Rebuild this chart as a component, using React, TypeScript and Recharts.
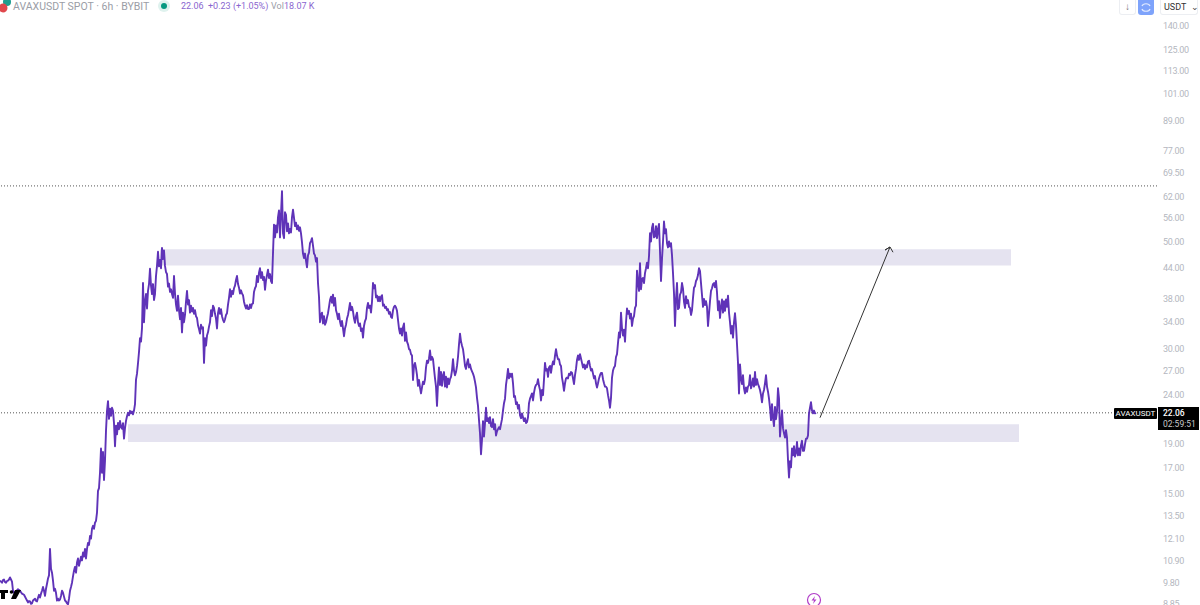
import React from "react";
import { LineChart, Line, XAxis, YAxis, ReferenceArea, ReferenceLine } from "recharts";

type Pair = [number, number];

const baseLeg: Pair[] = [
  [0,9.9],[1,9.85],[2,9.8],[3,9.92],[4,9.95],[5,9.83],[6,9.8],[7,9.88],[8,9.9],[9,9.95],[10,10.05],[11,9.95],[12,9.85],[13,9.43],[14,9.34],
  [16,9.4],[18,9.5],[20,9.43],[22,9.3],[24,9.25],[26,9.08],[27,9.0],[28,8.92],[29,8.98],[30,8.96],[31,8.86],[32,8.88],[33,9.0],[35,9.08],[36,8.98],[37,8.96],
  [38,9.12],[39,9.25],[40,9.13],[41,9.3],[42,9.43],[43,9.6],[44,9.43],[45,9.2],[46,9.52],[47,9.75],[48,10.0],[49,10.15],[50,11.52],[51,10.47],[52,10.28],
  [53,9.9],[54,9.43],[55,9.52],[56,9.34],[57,9.0],[58,9.08],[59,9.0],[60,9.04],[61,9.2],[62,9.43],[63,9.34],[64,9.17],[65,9.0],[66,8.96],[67,8.88],[68,8.84],
  [69,9.08],[70,9.43],[71,9.6],[72,9.8],[73,10.1],[74,10.38],[75,10.57],[76,10.28],[77,10.79],[78,11.0],[79,10.62],[80,10.85],[81,11.1],[82,10.9],[83,11.32],
  [84,11.1],[85,11.52],[86,11.0],[87,11.52],[88,11.85],[89,11.74],[90,12.25],[91,12.1],[92,12.68],[93,12.86],[94,12.68],[95,13.05],[96,13.17],[97,13.69],[98,15.2],
  [99,15.4],[100,16.57],[101,18.6],[102,16.57],[103,18.3],[104,16.0],[105,17.55],[106,20.25],[107,22.27],[108,23.33],[109,21.43],[110,22.5],[111,21.75],[112,22.6],
  [113,22.27],[114,21.0],[115,18.8],[116,20.75],[117,19.9],[118,21.02],[119,20.4],[120,21.23],[121,20.6],[122,20.45],[123,21.0],[124,19.5],[125,20.5],[126,21.23],
  [127,21.7],[128,22.06],[129,21.8],[130,22.27],[131,22.0],[132,22.2],[133,21.9],[134,22.3],[135,23.0],
];

const firstPeakLeg: Pair[] = [
  [136,25.85],[137,26.6],[138,27.95],[139,29.5],[140,31.5],[141,31.0],[142,33.05],[143,41.0],[144,34.0],[145,37.5],[146,38.9],[147,36.3],[148,39.5],[149,40.8],
  [150,43.9],[151,40.5],[152,38.9],[153,40.8],[154,37.8],[155,38.9],[156,42.4],[157,44.5],[158,47.6],[159,44.4],[160,45.8],[161,44.0],[162,48.5],[163,46.0],
  [164,47.9],[165,44.5],[166,43.2],[167,42.8],[168,40.3],[169,40.9],[170,39.3],[171,39.8],[172,38.9],[173,38.2],[174,42.4],[175,39.0],[176,37.0],[177,35.9],
  [178,38.6],[179,36.0],[180,34.5],[181,36.4],[182,32.4],[183,35.6],[184,34.0],[185,35.2],[186,37.5],[187,39.5],[188,37.0],[189,37.8],[190,35.6],[191,36.8],
  [192,35.8],[193,36.4],[194,35.4],[195,36.0],[196,35.0],[197,34.7],[198,33.5],[199,32.9],[200,32.2],[201,33.6],[202,33.0],[203,33.2],[204,28.0],[205,31.5],
  [206,30.4],[207,31.9],[208,32.4],[209,33.3],[210,34.0],[211,36.0],[212,35.0],[213,36.8],[214,36.4],[215,35.4],[216,34.6],[217,33.0],[218,35.5],[219,36.4],
  [220,35.4],[221,36.2],[222,35.0],[223,34.4],[224,34.0],[225,34.5],[226,35.2],[227,35.5],[228,37.0],[229,38.2],[230,39.8],[231,38.4],[232,39.5],[233,38.9],
  [234,40.0],[235,40.5],[236,41.6],[237,42.4],[238,40.8],[239,40.1],[240,39.0],[241,39.6],[242,39.0],[243,38.7],[244,37.5],[245,36.8],[246,36.3],[247,36.9],
  [248,36.2],[249,36.2],[250,37.0],[251,36.4],[252,37.1],[253,37.2],[254,39.3],[255,40.0],[256,40.4],[257,42.4],[258,41.2],[259,43.1],[260,44.0],[261,42.0],
  [262,43.2],[263,41.6],[264,42.2],[265,39.7],[266,41.5],[267,42.6],[268,43.7],[269,42.0],[270,42.8],[271,41.4],[272,41.0],[273,47.3],[274,54.2],[275,51.0],
  [276,54.0],[277,52.2],[278,56.2],[279,58.0],[280,51.0],[281,57.0],[282,63.6],[283,52.0],[284,50.8],[285,57.5],[286,56.8],[287,52.5],[288,54.5],[289,52.0],
  [290,53.1],[291,52.2],[292,56.2],[293,58.2],[294,56.0],[295,53.8],[296,54.7],[297,53.0],[298,54.0],[299,52.6],[300,53.5],
];

const slideLeg: Pair[] = [
  [301,52.0],[302,49.8],[303,47.2],[304,46.2],[305,47.2],[306,45.6],[307,44.2],[308,46.8],[309,47.4],[310,49.6],[311,50.1],[312,50.8],[313,49.0],[314,47.2],
  [315,46.8],[316,45.4],[317,46.2],[318,41.0],[319,38.4],[320,34.0],[321,35.2],[322,35.6],[323,33.8],[324,35.0],[325,33.6],[326,34.0],[327,34.8],[328,35.5],
  [329,36.6],[330,37.8],[331,38.4],[332,37.3],[333,38.8],[334,36.8],[335,38.2],[336,36.0],[337,35.4],[338,34.5],[339,35.4],[340,34.1],[341,33.4],[342,34.2],
  [343,33.0],[344,31.8],[345,33.0],[346,33.6],[347,34.6],[348,35.2],[349,36.2],[350,37.3],[351,36.0],[352,36.6],[353,35.8],[354,34.6],[355,33.9],[356,35.0],
  [357,35.6],[358,34.0],[359,33.4],[360,33.8],[361,32.6],[362,33.0],[363,31.6],[364,33.4],[365,34.2],[366,34.6],[367,36.4],[368,37.3],[369,36.4],[370,36.8],
  [371,35.6],[372,37.5],[373,41.0],[374,40.0],[375,40.6],[376,38.3],[377,38.6],[378,37.6],[379,38.4],[380,37.6],[381,38.4],[382,38.7],[383,36.8],[384,37.0],
  [385,36.4],[386,36.6],[387,36.0],[388,36.2],[389,35.4],[390,35.7],[391,34.9],[392,34.7],[393,36.0],[394,36.6],[395,36.8],[396,36.5],[397,35.9],[398,34.4],
  [399,33.0],[400,32.2],[401,33.0],[402,31.9],[403,33.2],[404,33.8],[405,31.1],[406,32.4],[407,31.0],[408,30.6],[409,29.9],[410,29.8],[411,29.2],[412,29.0],
  [413,25.8],[414,27.6],[415,28.0],[416,27.3],[417,26.4],[418,25.1],[419,25.8],[420,24.9],[421,24.2],[422,24.9],[423,25.6],[424,25.3],[425,25.9],[426,27.4],
  [427,28.3],[428,28.0],[429,28.6],[430,29.7],[431,28.4],[432,28.8],[433,28.5],[434,27.2],[435,26.0],[436,25.0],[437,22.8],[438,25.4],[439,27.4],[440,25.2],
  [441,26.8],[442,25.1],[443,26.4],[444,26.8],[445,25.0],[446,26.2],[447,24.9],[448,26.0],[449,25.3],[450,25.9],[451,26.2],[452,27.0],[453,28.5],[454,27.0],
  [455,26.4],[456,26.8],[457,27.6],[458,28.8],[459,30.6],[460,32.2],[461,31.0],[462,30.4],[463,29.9],[464,28.8],[465,27.6],[466,27.2],[467,28.0],[468,28.5],
  [469,27.4],[470,27.8],[471,27.2],[472,26.9],[473,26.6],[474,26.2],[475,25.6],[476,24.9],[477,23.7],[478,22.8],[479,21.3],[480,20.0],[481,18.1],[482,19.4],
  [483,21.2],[484,19.7],[485,21.0],[486,22.6],[487,21.2],[488,21.5],[489,21.0],[490,21.6],[491,20.7],[492,20.6],[493,21.4],[494,20.4],[495,20.9],[496,19.8],
  [497,20.2],[498,20.4],[499,20.6],[500,20.4],[501,20.9],[502,21.4],[503,22.3],[504,23.1],[505,23.6],[506,25.2],[507,26.1],[508,27.2],[509,26.0],[510,26.6],
  [511,26.2],[512,26.6],[513,25.4],[514,23.8],[515,23.9],[516,23.0],[517,23.2],[518,22.5],[519,22.9],[520,21.8],[521,21.5],[522,22.0],[523,21.6],[524,21.2],
  [525,21.5],[526,21.0],[527,21.1],[528,21.6],[529,23.1],[530,23.6],[531,23.9],[532,24.2],[533,23.4],[534,24.3],[535,24.9],[536,25.2],[537,25.3],[538,25.9],
  [539,25.1],[540,24.6],[541,23.4],[542,24.6],[543,24.0],[544,25.9],[545,28.0],[546,27.0],[547,27.2],[548,26.2],[549,27.4],[550,27.6],[551,26.7],[552,27.6],
  [553,28.2],[554,27.8],[555,29.0],[556,29.9],[557,29.0],[558,28.5],[559,28.5],[560,27.8],[561,27.6],[562,26.1],[563,25.4],[564,24.5],[565,25.4],[566,26.0],
  [567,26.1],[568,26.0],[569,26.6],[570,26.4],[571,26.8],[572,26.7],[573,26.0],[574,25.3],[575,26.4],[576,27.2],[577,28.4],[578,29.0],[579,28.4],[580,29.2],
  [581,28.6],[582,28.0],[583,27.4],[584,27.8],[585,27.2],[586,27.7],[587,27.4],[588,28.2],[589,28.3],[590,27.6],[591,27.0],[592,27.2],[593,26.6],[594,26.0],
  [595,26.3],[596,25.4],[597,24.9],[598,25.4],[599,26.0],[600,26.4],[601,26.7],[602,26.7],[603,25.9],[604,25.4],[605,25.0],[606,25.0],[607,24.8],[608,24.0],
  [609,23.4],[610,22.6],[611,23.7],
];

const secondPeakLeg: Pair[] = [
  [612,26.1],[613,27.0],[614,27.4],[615,27.6],[616,28.8],[617,29.2],[618,30.8],[619,32.4],[620,31.6],[621,35.6],[622,33.0],[623,31.9],[624,32.8],[625,31.0],
  [626,34.0],[627,36.3],[628,35.4],[629,35.9],[630,34.6],[631,35.4],[632,33.4],[633,34.6],[634,35.0],[635,36.4],[636,36.8],[637,43.5],[638,41.0],[639,39.5],
  [640,45.1],[641,39.8],[642,41.8],[643,42.0],[644,41.0],[645,43.0],[646,44.0],[647,45.2],[648,44.0],[649,46.6],[650,52.0],[651,50.0],[652,53.4],[653,54.4],
  [654,51.0],[655,51.2],[656,53.8],[657,50.8],[658,53.0],[659,54.4],[660,47.6],[661,41.4],[662,46.0],[663,50.0],[664,55.0],[665,52.0],[666,53.0],[667,49.6],
  [668,48.6],[669,50.0],[670,48.8],[671,49.6],[672,46.8],[673,43.0],[674,39.0],[675,33.4],[676,38.0],[677,41.0],[678,36.2],[679,36.4],[680,38.8],[681,39.2],
  [682,41.0],[683,39.9],[684,37.5],[685,36.4],[686,38.5],[687,37.2],[688,37.8],[689,36.6],[690,36.4],[691,35.2],[692,36.0],[693,38.2],[694,40.1],[695,40.4],
  [696,41.4],[697,41.8],[698,42.6],[699,44.0],[700,43.4],[701,41.0],[702,38.7],[703,36.6],[704,38.0],[705,36.9],[706,37.6],[707,36.6],[708,33.4],[709,35.4],
  [710,37.6],[711,39.5],[712,40.0],[713,40.8],[714,41.0],[715,40.2],[716,41.4],[717,39.2],[718,36.0],[719,37.6],[720,34.7],[721,36.6],[722,37.9],[723,35.6],
  [724,37.6],[725,35.9],[726,37.9],[727,36.6],[728,38.6],[729,35.6],[730,34.0],[731,32.2],[732,33.4],[733,31.6],[734,34.0],[735,35.5],[736,33.5],[737,30.6],
  [738,28.0],[739,24.2],[740,27.8],[741,26.0],[742,25.3],[743,26.4],[744,24.8],[745,24.2],[746,24.9],[747,24.4],[748,25.0],[749,25.2],[750,26.4],[751,24.8],
  [752,25.2],[753,26.0],[754,25.0],[755,26.8],[756,25.2],[757,25.9],[758,25.3],[759,25.0],[760,24.6],[761,24.0],[762,23.2],[763,24.2],[764,24.6],[765,25.4],
  [766,26.4],[767,25.0],[768,24.4],[769,23.6],[770,22.6],[771,21.3],[772,23.0],[773,21.5],[774,20.7],[775,22.7],[776,21.4],[777,22.2],[778,24.8],[779,23.6],
  [780,19.7],[781,21.0],[782,22.3],[783,20.5],[784,20.0],[785,19.6],[786,20.3],[787,19.6],[788,17.6],[789,16.2],[790,17.5],[791,17.0],[792,18.6],[793,18.0],
  [794,18.8],[795,17.9],[796,18.2],[797,19.2],[798,18.0],[799,18.6],[800,18.0],[801,18.9],[802,19.3],[803,18.4],[804,18.4],[805,19.0],[806,19.5],[807,19.5],
  [808,19.8],[809,22.0],[810,22.6],[811,23.2],[812,22.3],[813,22.0],[814,22.3],[815,22.0],[816,22.06],
];

const arrowLeg: Pair[] = [
  [820,21.55],[890,48.7],[885,48.0],[890,48.7],[893,47.5],
];

const priceTicks = [140,125,113,101,89,77,69.5,62,56,50,44,38,34,30,27,24,19,17,15,13.5,12.1,10.9,9.8,8.85];

const upperZone = { from: 160, to: 1011, low: 44.6, high: 48.2 };
const lowerZone = { from: 128, to: 1019, low: 19.2, high: 20.9 };
const lastPrice = 22.06;
const resistance = 65.2;

const priceData = [...baseLeg, ...firstPeakLeg, ...slideLeg, ...secondPeakLeg].map(([bar, price]) => ({ bar, price }));
const arrowData = arrowLeg.map(([bar, price]) => ({ bar, arrow: price }));

const LINE = "#5f33b8";
const ZONE = "#e5e3f0";
const AXIS = "#b4b7c0";
const FONT = "Roboto, 'Liberation Sans', sans-serif";
const abs = (o: React.CSSProperties): React.CSSProperties => ({ position: "absolute", whiteSpace: "nowrap", ...o });

export default function App() {
  return (
    <div style={{ position: "fixed", left: 0, top: 0, width: 1200, height: 605, overflow: "hidden", background: "#fff", fontFamily: FONT }}>
      <LineChart width={1200} height={605} data={priceData} margin={{ top: 0, right: 0, bottom: 0, left: 0 }}>
        <XAxis dataKey="bar" type="number" domain={[0, 1157]} hide allowDataOverflow />
        <YAxis
          orientation="right"
          width={43}
          scale="log"
          type="number"
          domain={[8.81, 158.45]}
          allowDataOverflow
          ticks={priceTicks}
          interval={0}
          axisLine={false}
          tickLine={false}
          tickMargin={0}
          tickFormatter={(v: number) => v.toFixed(2)}
          tick={{ fill: AXIS, fontSize: 9, letterSpacing: -0.3, fontFamily: FONT, textAnchor: "start" }}
        />
        <ReferenceArea x1={upperZone.from} x2={upperZone.to} y1={upperZone.low} y2={upperZone.high} fill={ZONE} fillOpacity={1} stroke="none" />
        <ReferenceArea x1={lowerZone.from} x2={lowerZone.to} y1={lowerZone.low} y2={lowerZone.high} fill={ZONE} fillOpacity={1} stroke="none" />
        <ReferenceLine y={resistance} stroke="#555" strokeDasharray="1 2" strokeWidth={1} />
        <ReferenceLine y={lastPrice} stroke="#555" strokeDasharray="1 2" strokeWidth={1} />
        <Line dataKey="price" stroke={LINE} strokeWidth={1.9} dot={false} isAnimationActive={false} strokeLinejoin="round" />
        <Line data={arrowData} dataKey="arrow" stroke="#333" strokeWidth={1} dot={false} isAnimationActive={false} />
      </LineChart>

      {/* header */}
      <svg style={{ position: "absolute", left: 0, top: 0 }} width={180} height={16}>
        <circle cx={7} cy={2} r={4} fill="#1e9e8f" />
        <circle cx={3} cy={8} r={4.5} fill="#e0474c" />
        <circle cx={164} cy={6} r={6} fill="#dff2ee" />
        <circle cx={164} cy={6} r={3} fill="#089981" />
      </svg>
      <div style={abs({ left: 13, top: 0, fontSize: 10.5, lineHeight: "13px", color: "#9a9da6" })}>AVAXUSDT SPOT · 6h · BYBIT</div>
      <div style={abs({ left: 181, top: 0, fontSize: 9, lineHeight: "13px", color: "#8a66cf" })}>22.06</div>
      <div style={abs({ left: 208, top: 0, fontSize: 9, lineHeight: "13px", color: "#8a66cf" })}>+0.23 (+1.05%)</div>
      <div style={abs({ left: 271, top: 0, fontSize: 9, lineHeight: "13px", color: "#9a9da6" })}>Vol</div>
      <div style={abs({ left: 284, top: 0, fontSize: 9, lineHeight: "13px", color: "#8a66cf" })}>18.07 K</div>

      {/* top-right buttons */}
      <div style={abs({ left: 1119, top: 0, width: 15, height: 14, border: "1px solid #eceef2", borderTop: "none", borderRadius: "0 0 3px 3px", color: "#777", fontSize: 10, textAlign: "center", lineHeight: "13px" })}>↓</div>
      <div style={abs({ left: 1138, top: 0, width: 16, height: 15, background: "#7ea3fb", borderRadius: "0 0 3px 3px" })}>
        <svg width={16} height={15}>
          <path d="M4 6C5 3 11 3 12 6 M4 9C5 12 11 12 12 9" fill="none" stroke="#e3ebff" strokeWidth={1.2} />
        </svg>
      </div>
      <div style={abs({ left: 1160, top: 0, width: 38, height: 15, border: "1px solid #eceef2", borderTop: "none", borderRadius: "0 0 3px 3px", fontSize: 9, lineHeight: "14px", color: "#333", paddingLeft: 3, boxSizing: "border-box" })}>USDT</div>
      <div style={abs({ left: 1191, top: 1, fontSize: 9, lineHeight: "12px", color: "#444" })}>⌄</div>

      {/* price badges */}
      <div style={abs({ left: 1114, top: 408, width: 43, height: 11, background: "#000", color: "#fff", fontSize: 8, lineHeight: "11px", textAlign: "center", borderRadius: 1 })}>AVAXUSDT</div>
      <div style={abs({ left: 1158, top: 407, width: 41, height: 23, background: "#000", color: "#fff", fontSize: 8.5, lineHeight: "11px", paddingLeft: 5, paddingTop: 1, boxSizing: "border-box" })}>
        <div style={{ fontWeight: 500 }}>22.06</div>
        <div style={{ color: "#c8c8c8" }}>02:59:51</div>
      </div>

      {/* watermark logo + flash icon */}
      <svg style={{ position: "absolute", left: 0, top: 582 }} width={24} height={20}>
        <path d="M0 8H8V11H5V17H1V11H0Z" fill="#000" />
        <circle cx={11.5} cy={10} r={1.8} fill="#000" />
        <path d="M15 8H21L16 17H11Z" fill="#000" />
      </svg>
      <svg style={{ position: "absolute", left: 806, top: 592 }} width={16} height={13}>
        <circle cx={8} cy={8} r={6.5} fill="none" stroke="#b03cc8" strokeWidth={1.2} />
        <path d="M9 4L5.5 8.5H8L7 12L10.5 7.5H8Z" fill="#b03cc8" />
      </svg>
    </div>
  );
}
